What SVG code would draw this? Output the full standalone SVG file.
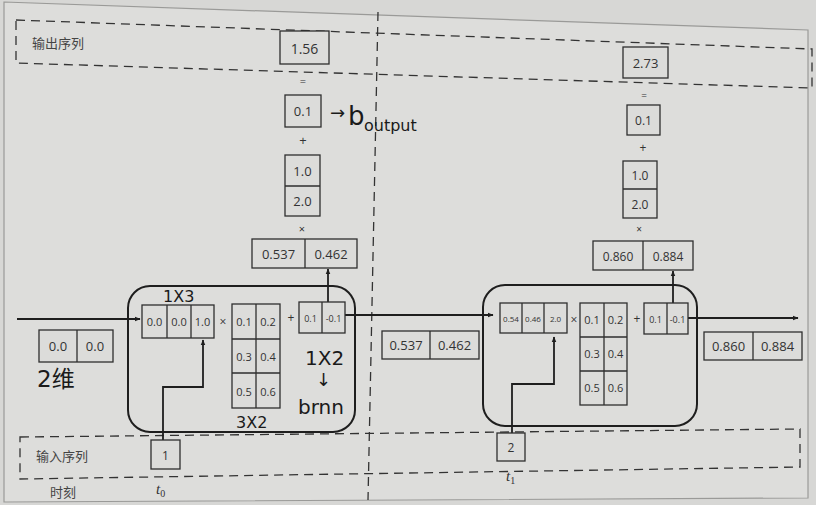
<svg xmlns="http://www.w3.org/2000/svg" width="816" height="505" viewBox="0 0 816 505">
<defs>
<marker id="ah" viewBox="0 0 10 10" refX="9" refY="5" markerWidth="6" markerHeight="6" orient="auto" markerUnits="userSpaceOnUse">
<path d="M0,1 L10,5 L0,9 Z" fill="#1e1e1e"/>
</marker>
<style>
.bx{fill:#dcdcda;stroke:#2e2e2e;stroke-width:1.3}
.cell{fill:none;stroke:#2e2e2e;stroke-width:1.3}
.t{font-family:"Open Sans","Liberation Sans",sans-serif;fill:#333;text-anchor:middle;dominant-baseline:central}
.cn{font-family:"Liberation Sans","Noto Sans CJK SC",sans-serif;fill:#444;font-size:13px}
.dash{fill:none;stroke:#333;stroke-width:1.3;stroke-dasharray:9 6}
.ln{fill:none;stroke:#1e1e1e;stroke-width:1.8}
.hw{font-family:"DejaVu Sans","Noto Sans CJK SC",sans-serif;fill:#1a1a1a;font-weight:normal}
.rc{fill:none;stroke:#1e1e1e;stroke-width:2}
</style>
</defs>
<rect x="0" y="0" width="816" height="505" fill="#d7d7d5"/>
<path d="M4,2 L808,30 L808,498 L4,502 Z" fill="#dddddb" stroke="#9a9a98" stroke-width="1.2"/>

<g id="output-seq">
<path class="dash" d="M16,20 L812,49 L812,88 L16,63 Z"/>
<text class="cn" x="32" y="48">输出序列</text>
</g>
<g id="input-seq">
<path class="dash" d="M20,437 L800,429 L800,467 L20,479 Z"/>
<text class="cn" x="36" y="461">输入序列</text>
<text class="cn" x="50" y="497">时刻</text>
</g>
<line id="divider" class="dash" x1="378" y1="12" x2="368" y2="500"/>

<g id="cell0">
<rect class="rc" x="128" y="286" width="227" height="146" rx="22"/>
</g>
<g id="cell1">
<rect class="rc" x="483" y="285" width="214" height="141" rx="22"/>
</g>

<g id="connectors">
<line class="ln" x1="17" y1="319" x2="140" y2="319" marker-end="url(#ah)"/>
<line class="ln" x1="345" y1="315" x2="493" y2="315" marker-end="url(#ah)"/>
<line class="ln" x1="688" y1="318" x2="798" y2="318" marker-end="url(#ah)"/>
<path class="ln" d="M163,440 L163,387 L203,387 L203,340" marker-end="url(#ah)"/>
<path class="ln" d="M512,433 L512,384 L554,384 L554,337" marker-end="url(#ah)"/>
<line class="ln" x1="328" y1="302" x2="328" y2="269" marker-end="url(#ah)"/>
<line class="ln" x1="673" y1="303" x2="673" y2="271" marker-end="url(#ah)"/>
</g>

<g id="y0">
<rect class="bx" x="280" y="31" width="49" height="33"/>
<text class="t" x="304.5" y="48" font-size="14">1.56</text>
</g>
<text class="t" x="303" y="80" font-size="11">=</text>
<g id="bout0">
<rect class="bx" x="285" y="95" width="36" height="32"/>
<text class="t" x="303" y="111" font-size="13">0.1</text>
</g>
<g id="bout-label">
<text class="hw" x="330" y="119" font-size="18">→</text>
<text class="hw" x="348" y="125" font-size="26">b</text>
<text class="hw" x="364" y="131" font-size="16">output</text>
</g>
<text class="t" x="303" y="140" font-size="13">+</text>
<g id="wout0">
<rect class="bx" x="285" y="155" width="35" height="61"/>
<line class="cell" x1="285" y1="186" x2="320" y2="186"/>
<text class="t" x="302.5" y="171" font-size="13">1.0</text>
<text class="t" x="302.5" y="201" font-size="13">2.0</text>
</g>
<text class="t" x="302" y="228" font-size="11">×</text>
<g id="h1-top">
<rect class="bx" x="252" y="239" width="105" height="29"/>
<line class="cell" x1="305" y1="239" x2="305" y2="268"/>
<text class="t" x="278.5" y="254" font-size="13">0.537</text>
<text class="t" x="331" y="254" font-size="13">0.462</text>
</g>

<g id="h0">
<rect class="bx" x="39" y="330" width="74" height="32"/>
<line class="cell" x1="77" y1="330" x2="77" y2="362"/>
<text class="t" x="58" y="346" font-size="13">0.0</text>
<text class="t" x="95" y="346" font-size="13">0.0</text>
<text class="hw" x="37" y="387" font-size="23">2维</text>
</g>
<g id="x0cat">
<rect class="bx" x="142" y="305" width="72" height="33"/>
<line class="cell" x1="167" y1="305" x2="167" y2="338"/>
<line class="cell" x1="191" y1="305" x2="191" y2="338"/>
<text class="t" x="154.5" y="321" font-size="11">0.0</text>
<text class="t" x="179" y="321" font-size="11">0.0</text>
<text class="t" x="202.5" y="321" font-size="11">1.0</text>
<text class="hw" x="163" y="302" font-size="16">1X3</text>
</g>
<text class="t" x="223" y="321" font-size="12">×</text>
<g id="w0">
<rect class="bx" x="232" y="304" width="48" height="104"/>
<line class="cell" x1="256" y1="304" x2="256" y2="408"/>
<line class="cell" x1="232" y1="339" x2="280" y2="339"/>
<line class="cell" x1="232" y1="373" x2="280" y2="373"/>
<text class="t" x="244" y="321" font-size="11">0.1</text>
<text class="t" x="268" y="321" font-size="11">0.2</text>
<text class="t" x="244" y="356" font-size="11">0.3</text>
<text class="t" x="268" y="356" font-size="11">0.4</text>
<text class="t" x="244" y="391" font-size="11">0.5</text>
<text class="t" x="268" y="391" font-size="11">0.6</text>
<text class="hw" x="236" y="428" font-size="16">3X2</text>
</g>
<text class="t" x="291" y="317" font-size="12">+</text>
<g id="b0">
<rect class="bx" x="299" y="302" width="46" height="31"/>
<line class="cell" x1="322" y1="302" x2="322" y2="333"/>
<text class="t" x="310.5" y="318" font-size="9">0.1</text>
<text class="t" x="333.5" y="318" font-size="9">-0.1</text>
<text class="hw" x="305" y="365" font-size="20">1X2</text>
<text class="hw" x="316" y="386" font-size="18">↓</text>
<text class="hw" x="298" y="414" font-size="20">brnn</text>
</g>
<g id="in0">
<rect class="bx" x="151" y="440" width="29" height="29"/>
<text class="t" x="165.5" y="455" font-size="12">1</text>
<text x="156" y="494" font-family="&quot;Liberation Serif&quot;,serif" font-style="italic" font-size="15" fill="#333">t<tspan font-size="10" dy="3" font-style="normal">0</tspan></text>
</g>

<g id="h1">
<rect class="bx" x="382" y="331" width="97" height="28"/>
<line class="cell" x1="430" y1="331" x2="430" y2="359"/>
<text class="t" x="406" y="345" font-size="13">0.537</text>
<text class="t" x="454.5" y="345" font-size="13">0.462</text>
</g>

<g id="y1">
<rect class="bx" x="623" y="47" width="45" height="31"/>
<text class="t" x="645.5" y="63" font-size="13">2.73</text>
</g>
<text class="t" x="644" y="95" font-size="10">=</text>
<g id="bout1">
<rect class="bx" x="627" y="105" width="33" height="30"/>
<text class="t" x="643.5" y="120" font-size="12">0.1</text>
</g>
<text class="t" x="643" y="147" font-size="12">+</text>
<g id="wout1">
<rect class="bx" x="623" y="161" width="34" height="57"/>
<line class="cell" x1="623" y1="189" x2="657" y2="189"/>
<text class="t" x="640" y="175" font-size="12">1.0</text>
<text class="t" x="640" y="204" font-size="12">2.0</text>
</g>
<text class="t" x="639" y="229" font-size="10">×</text>
<g id="h2-top">
<rect class="bx" x="593" y="241" width="100" height="29"/>
<line class="cell" x1="643" y1="241" x2="643" y2="270"/>
<text class="t" x="618" y="256" font-size="12">0.860</text>
<text class="t" x="668" y="256" font-size="12">0.884</text>
</g>

<g id="x1cat">
<rect class="bx" x="500" y="303" width="67" height="30"/>
<line class="cell" x1="522" y1="303" x2="522" y2="333"/>
<line class="cell" x1="544" y1="303" x2="544" y2="333"/>
<text class="t" x="511" y="318" font-size="8">0.54</text>
<text class="t" x="533" y="318" font-size="8">0.46</text>
<text class="t" x="555.5" y="318" font-size="8">2.0</text>
</g>
<text class="t" x="574" y="319" font-size="12">×</text>
<g id="w1">
<rect class="bx" x="580" y="303" width="47" height="102"/>
<line class="cell" x1="604" y1="303" x2="604" y2="405"/>
<line class="cell" x1="580" y1="337" x2="627" y2="337"/>
<line class="cell" x1="580" y1="371" x2="627" y2="371"/>
<text class="t" x="592" y="319" font-size="11">0.1</text>
<text class="t" x="615.5" y="319" font-size="11">0.2</text>
<text class="t" x="592" y="353" font-size="11">0.3</text>
<text class="t" x="615.5" y="353" font-size="11">0.4</text>
<text class="t" x="592" y="387" font-size="11">0.5</text>
<text class="t" x="615.5" y="387" font-size="11">0.6</text>
</g>
<text class="t" x="637" y="318" font-size="12">+</text>
<g id="b1">
<rect class="bx" x="644" y="303" width="44" height="31"/>
<line class="cell" x1="667" y1="303" x2="667" y2="334"/>
<text class="t" x="655.5" y="319" font-size="9">0.1</text>
<text class="t" x="677.5" y="319" font-size="9">-0.1</text>
</g>
<g id="in1">
<rect class="bx" x="497" y="433" width="28" height="28"/>
<text class="t" x="511" y="447" font-size="12">2</text>
<text x="506" y="481" font-family="&quot;Liberation Serif&quot;,serif" font-style="italic" font-size="15" fill="#333">t<tspan font-size="10" dy="3" font-style="normal">1</tspan></text>
</g>
<g id="h2">
<rect class="bx" x="704" y="332" width="98" height="28"/>
<line class="cell" x1="753" y1="332" x2="753" y2="360"/>
<text class="t" x="728.5" y="346" font-size="13">0.860</text>
<text class="t" x="777.5" y="346" font-size="13">0.884</text>
</g>
</svg>
